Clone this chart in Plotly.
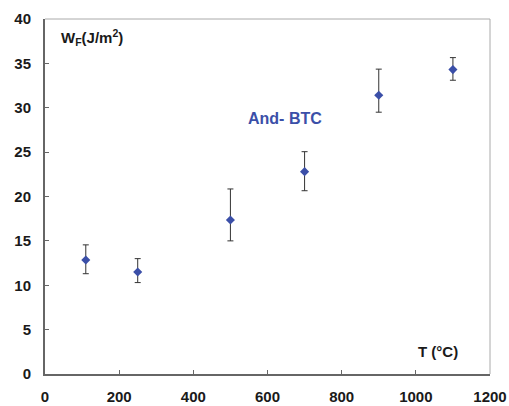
import plotly.graph_objects as go

temps = [110, 250, 500, 700, 900, 1100]
wf = [12.85, 11.5, 17.35, 22.8, 31.4, 34.3]
err_plus = [1.7, 1.5, 3.5, 2.25, 2.95, 1.35]
err_minus = [1.55, 1.2, 2.35, 2.15, 1.9, 1.2]
x_ticks = [0, 200, 400, 600, 800, 1000, 1200]
y_ticks = [0, 5, 10, 15, 20, 25, 30, 35, 40]

FONT = "Liberation Sans, Arial, sans-serif"
TXT = "#1a1a1a"

fig = go.Figure()
fig.add_trace(go.Scatter(
    x=temps, y=wf, mode="markers",
    marker=dict(symbol="diamond", size=7, color="#3b4fa8"),
    error_y=dict(type="data", array=err_plus, arrayminus=err_minus,
                 color="#333333", thickness=1, width=3),
    showlegend=False,
))

fig.update_layout(
    width=509, height=406,
    margin=dict(l=45, r=19, t=19, b=32),
    paper_bgcolor="white", plot_bgcolor="white",
    font=dict(family=FONT, size=15, color=TXT),
    xaxis=dict(range=[0, 1200], tickvals=x_ticks,
               ticktext=[f"<b>{v}</b>" for v in x_ticks],
               ticks="inside", ticklen=4,
               tickcolor="#666666", showgrid=False, zeroline=False,
               showline=True, linecolor="#666666", linewidth=2,
               ticklabelstandoff=8, automargin=False,
               tickfont=dict(size=15, family=FONT, color=TXT)),
    yaxis=dict(range=[0, 40], tickvals=y_ticks,
               ticktext=[f"<b>{v}</b>" for v in y_ticks],
               ticks="inside", ticklen=4,
               tickcolor="#666666", showgrid=False, zeroline=False,
               showline=True, linecolor="#666666", linewidth=2,
               ticklabelstandoff=9, automargin=False,
               tickfont=dict(size=15, family=FONT, color=TXT)),
    shapes=[
        dict(type="line", xref="paper", yref="paper", x0=0, x1=1, y0=1, y1=1,
             line=dict(color="#aaaaaa", width=1)),
        dict(type="line", xref="paper", yref="paper", x0=1, x1=1, y0=0, y1=1,
             line=dict(color="#aaaaaa", width=1)),
    ],
    annotations=[
        dict(x=38, y=37.9, xref="x", yref="y", xanchor="left", yanchor="middle",
             text="<b>W<sub>F</sub>(J/m<sup>2</sup>)</b>", showarrow=False,
             font=dict(size=15, family=FONT, color=TXT)),
        dict(x=647, y=28.8, xref="x", yref="y", xanchor="center", yanchor="middle",
             text="<b>And- BTC</b>", showarrow=False,
             font=dict(size=16, family=FONT, color="#3b4fa8")),
        dict(x=1060, y=2.55, xref="x", yref="y", xanchor="center", yanchor="middle",
             text="<b>T (°C)</b>", showarrow=False,
             font=dict(size=15, family=FONT, color=TXT)),
    ],
)

fig.write_html("out.html")
